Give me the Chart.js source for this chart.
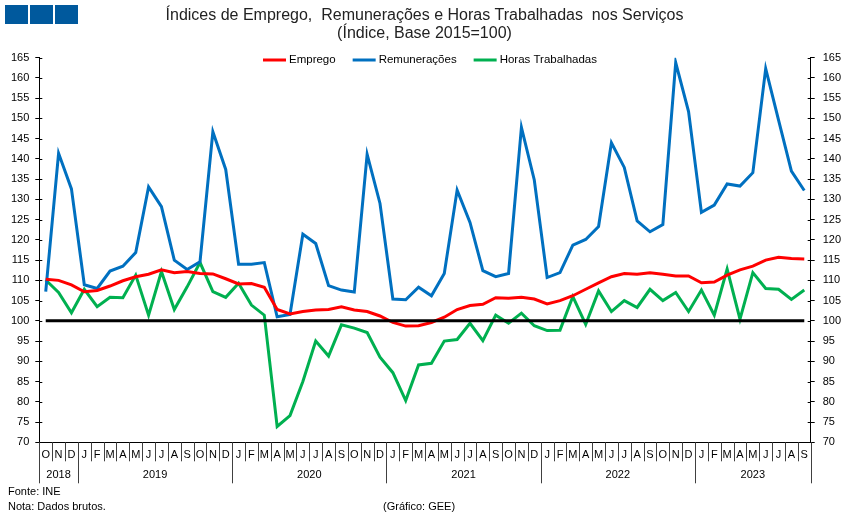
<!DOCTYPE html>
<html>
<head>
<meta charset="utf-8">
<title>Índices de Emprego, Remunerações e Horas Trabalhadas nos Serviços</title>
<script src="https://cdn.jsdelivr.net/npm/chart.js@4.4.1/dist/chart.umd.min.js"></script>
<style>
	body { margin: 0; background: #fff; }
	canvas { display: block; }
</style>
</head>
<body>
<canvas id="grafico" width="849" height="519"></canvas>
<script>
// meses out/2018 .. set/2023
const meses = [
	"O", "N", "D",
	"J", "F", "M", "A", "M", "J", "J", "A", "S", "O", "N", "D",
	"J", "F", "M", "A", "M", "J", "J", "A", "S", "O", "N", "D",
	"J", "F", "M", "A", "M", "J", "J", "A", "S", "O", "N", "D",
	"J", "F", "M", "A", "M", "J", "J", "A", "S", "O", "N", "D",
	"J", "F", "M", "A", "M", "J", "J", "A", "S"
];
const anos = ["2018", "2019", "2020", "2021", "2022", "2023"];
const mesesPorAno = [3, 12, 12, 12, 12, 9];

const emprego = [
	110.3, 110.0, 108.9, 107.2, 107.5, 108.6, 109.9, 110.9, 111.5, 112.6,
	111.9, 112.2, 111.7, 111.6, 110.4, 109.1, 109.2, 108.3, 102.8, 101.7,
	102.3, 102.7, 102.8, 103.5, 102.7, 102.3, 101.2, 99.6, 98.7, 98.8,
	99.6, 100.9, 102.8, 103.8, 104.1, 105.7, 105.6, 105.8, 105.4, 104.2,
	105.0, 106.2, 107.8, 109.4, 110.9, 111.7, 111.5, 111.9, 111.5, 111.1,
	111.1, 109.4, 109.6, 111.3, 112.6, 113.5, 115.0, 115.7, 115.4, 115.3
];
const remuneracoes = [
	107.2, 141.4, 132.6, 108.9, 108.0, 112.3, 113.5, 116.9, 133.1, 128.2,
	115.0, 112.7, 114.6, 146.7, 137.4, 114.0, 114.0, 114.4, 101.0, 101.6,
	121.4, 119.1, 108.7, 107.6, 107.1, 141.1, 129.0, 105.4, 105.2, 108.3,
	106.2, 111.7, 132.3, 124.3, 112.4, 110.9, 111.7, 147.8, 134.8, 110.7,
	111.9, 118.7, 120.1, 123.3, 144.0, 137.9, 124.7, 122.0, 123.8, 163.8,
	151.7, 126.8, 128.6, 133.8, 133.3, 136.6, 162.3, 149.6, 137.0, 132.2
];
const horas = [
	110.1, 107.0, 102.0, 107.8, 103.5, 105.8, 105.7, 111.3, 101.4, 112.2,
	102.8, 108.4, 114.4, 107.2, 105.8, 109.3, 103.9, 101.4, 73.9, 76.6,
	85.0, 95.0, 91.3, 99.0, 98.2, 97.1, 91.0, 87.2, 80.3, 89.1,
	89.5, 95.0, 95.4, 99.4, 95.1, 101.4, 99.4, 101.9, 98.8, 97.6,
	97.7, 106.0, 99.1, 107.4, 102.3, 105.0, 103.3, 107.8, 105.0, 107.0,
	102.3, 107.6, 101.4, 112.8, 100.4, 111.9, 108.0, 107.8, 105.3, 107.6
];
const base = 100;

const corEmprego = "#ff0000";
const corRemun = "#0070c0";
const corHoras = "#00b050";
const fonte = "'Liberation Sans', Arial, sans-serif";

Chart.defaults.font.family = fonte;
Chart.defaults.color = "#000";

// linha base, separadores do eixo, legenda e notas
const extras = {
	id: "extras",
	afterDatasetsDraw(chart) {
		const ctx = chart.ctx;
		const area = chart.chartArea;
		const x = chart.scales.x;
		const y = chart.scales.y;
		ctx.save();
		ctx.strokeStyle = "#000";
		ctx.lineWidth = 3;
		ctx.beginPath();
		ctx.moveTo(x.getPixelForValue(0), y.getPixelForValue(base));
		ctx.lineTo(x.getPixelForValue(meses.length - 1), y.getPixelForValue(base));
		ctx.stroke();
		ctx.restore();
	},
	afterDraw(chart) {
		const ctx = chart.ctx;
		const area = chart.chartArea;
		const x = chart.scales.x;
		const yl = chart.scales.y;
		const yr = chart.scales.y2;
		const larg = (area.right - area.left) / meses.length;
		ctx.save();

		// quadrados do cabecalho
		ctx.fillStyle = "#00599d";
		ctx.fillRect(5, 5, 23, 19);
		ctx.fillRect(30, 5, 23, 19);
		ctx.fillRect(55, 5, 23, 19);

		// marcas para dentro nos eixos y
		ctx.strokeStyle = "#000";
		ctx.lineWidth = 1;
		yl.ticks.forEach(function (t) {
			const py = Math.round(yl.getPixelForValue(t.value)) + 0.5;
			ctx.beginPath();
			ctx.moveTo(area.left, py);
			ctx.lineTo(area.left + 3, py);
			ctx.moveTo(area.right - 3, py);
			ctx.lineTo(area.right, py);
			ctx.stroke();
		});

		// separadores dos meses e anos
		let fronteiras = [0];
		let acc = 0;
		mesesPorAno.forEach(function (n) {
			acc += n;
			fronteiras.push(acc);
		});
		ctx.strokeStyle = "#404040";
		for (let i = 0; i <= meses.length; i++) {
			const px = Math.round(x.getPixelForValue(i) - larg / 2) + 0.5;
			const fundo = fronteiras.indexOf(i) >= 0 ? area.bottom + 41 : area.bottom + 19;
			ctx.beginPath();
			ctx.moveTo(px, area.bottom);
			ctx.lineTo(px, fundo);
			ctx.stroke();
		}
		ctx.fillStyle = "#000";
		ctx.font = "11px " + fonte;
		ctx.textAlign = "center";
		ctx.textBaseline = "middle";
		for (let k = 0; k < anos.length; k++) {
			const a = fronteiras[k];
			const b = fronteiras[k + 1] - 1;
			const px = (x.getPixelForValue(a) + x.getPixelForValue(b)) / 2;
			ctx.fillText(anos[k], px, area.bottom + 33);
		}

		// legenda
		const itens = chart.data.datasets;
		ctx.font = "11.5px " + fonte;
		const amostra = 23, folga = 3, entre = 17;
		let total = 0;
		itens.forEach(function (d, i) {
			total += amostra + folga + ctx.measureText(d.label).width;
			if (i > 0) total += entre;
		});
		let cx = (area.left + area.right) / 2 + 5 - total / 2;
		const ly = 60;
		ctx.textAlign = "left";
		itens.forEach(function (d) {
			ctx.strokeStyle = d.borderColor;
			ctx.lineWidth = 3;
			ctx.beginPath();
			ctx.moveTo(cx, ly);
			ctx.lineTo(cx + amostra, ly);
			ctx.stroke();
			cx += amostra + folga;
			ctx.fillStyle = "#000";
			ctx.fillText(d.label, cx, ly);
			cx += ctx.measureText(d.label).width + entre;
		});

		// notas
		ctx.font = "11px " + fonte;
		ctx.fillText("Fonte: INE", 8, 492);
		ctx.fillText("Nota: Dados brutos.", 8, 507);
		ctx.fillText("(Gráfico: GEE)", 383, 507);
		ctx.restore();
	}
};

const eixoY = {
	min: 70,
	max: 165,
	ticks: { stepSize: 5, font: { size: 11 }, color: "#000", padding: 6 },
	grid: { drawOnChartArea: false, drawTicks: true, tickLength: 4, color: "#000" },
	border: { display: true, color: "#000" }
};

new Chart(document.getElementById("grafico"), {
	type: "line",
	data: {
		labels: meses,
		datasets: [
			{ label: "Emprego", data: emprego, borderColor: corEmprego, backgroundColor: corEmprego, borderWidth: 3, pointRadius: 0, tension: 0, yAxisID: "y" },
			{ label: "Remunerações", data: remuneracoes, borderColor: corRemun, backgroundColor: corRemun, borderWidth: 3, pointRadius: 0, tension: 0, yAxisID: "y" },
			{ label: "Horas Trabalhadas", data: horas, borderColor: corHoras, backgroundColor: corHoras, borderWidth: 3, pointRadius: 0, tension: 0, yAxisID: "y" }
		]
	},
	options: {
		responsive: false,
		animation: false,
		layout: { padding: 0 },
		plugins: {
			legend: { display: false },
			tooltip: { enabled: false },
			title: {
				display: true,
				text: ["Índices de Emprego,  Remunerações e Horas Trabalhadas  nos Serviços", "(Índice, Base 2015=100)"],
				color: "#222",
				font: { size: 16, weight: "normal", lineHeight: 1.15 },
				padding: { top: 6, bottom: 14.9 }
			}
		},
		scales: {
			x: {
				type: "category",
				offset: true,
				ticks: { autoSkip: false, maxRotation: 0, font: { size: 11 }, color: "#000", padding: 6 },
				grid: { display: false, drawTicks: false },
				border: { display: true, color: "#000" },
				afterFit(s) { s.height = 76.7; }
			},
			y: Object.assign({ position: "left", afterFit(s) { s.width = 39.3; } }, eixoY),
			y2: Object.assign({ position: "right", afterFit(s) { s.width = 38.3; } }, eixoY, {
				ticks: { stepSize: 5, font: { size: 11 }, color: "#000", padding: 8 }
			})
		}
	},
	plugins: [extras]
});
</script>
</body>
</html>
